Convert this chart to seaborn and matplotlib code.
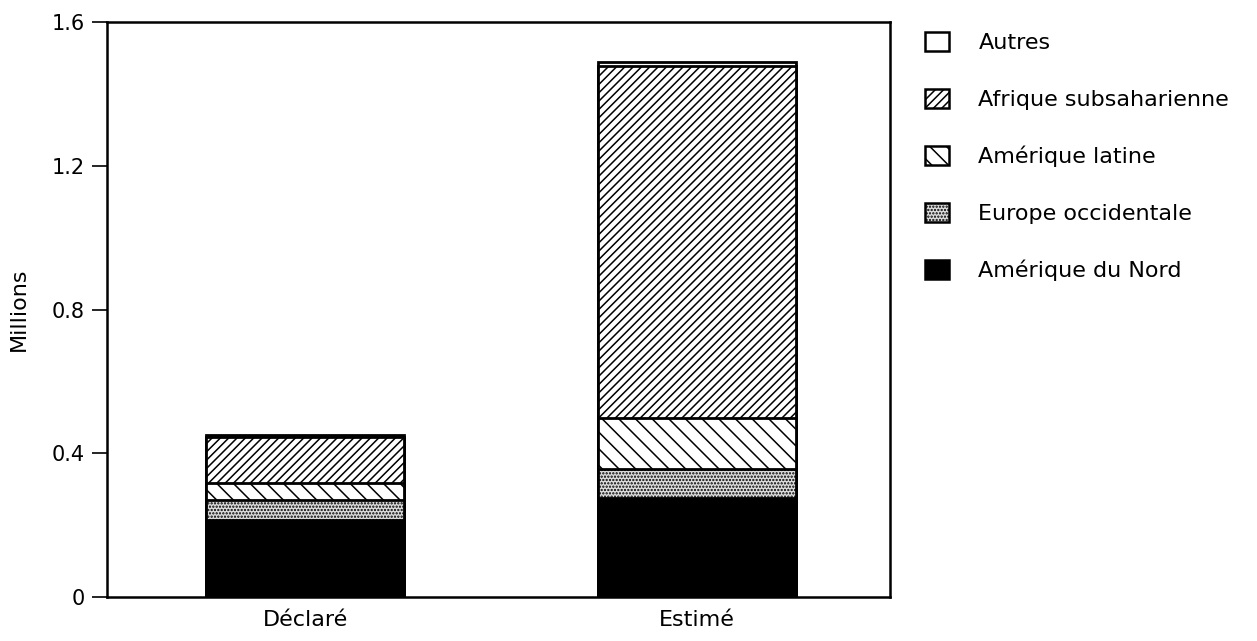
import matplotlib
matplotlib.use("Agg")
import matplotlib.pyplot as plt
import matplotlib.patches as mpatches
import seaborn as sns
import pandas as pd
import numpy as np

categories = ["Déclaré", "Estimé"]
amerique_nord = [0.214, 0.276]
europe_occ = [0.056, 0.081]
amerique_lat = [0.047, 0.142]
afrique_ss = [0.128, 0.978]
autres = [0.005, 0.011]

series_names = ["Amérique du Nord", "Europe occidentale", "Amérique latine",
                "Afrique subsaharienne", "Autres"]
series_vals = [amerique_nord, europe_occ, amerique_lat, afrique_ss, autres]
y_ticks = [0, 0.4, 0.8, 1.2, 1.6]
y_tick_labels = ["0", "0.4", "0.8", "1.2", "1.6"]

styles = {
    "Amérique du Nord": dict(facecolor="black", hatch=None),
    "Europe occidentale": dict(facecolor="#dddddd", hatch="....."),
    "Amérique latine": dict(facecolor="white", hatch="\\\\"),
    "Afrique subsaharienne": dict(facecolor="white", hatch="////"),
    "Autres": dict(facecolor="white", hatch=None),
}

sns.set_theme(style="white")
plt.rcParams["font.family"] = ["DejaVu Sans"]
plt.rcParams["hatch.linewidth"] = 1.1
plt.rcParams["hatch.color"] = "black"

fig = plt.figure(figsize=(12.57, 6.41), dpi=100)
# axes: x 107..890 px, y 22..597 px
ax = fig.add_axes([107 / 1257, 44 / 641, 783 / 1257, 575 / 641])

cum = np.cumsum(np.array(series_vals), axis=0)
# draw from top layer down so lower segments cover upper ones
for i in range(len(series_names) - 1, -1, -1):
    name = series_names[i]
    df = pd.DataFrame({"cat": categories, "val": cum[i]})
    st = styles[name]
    sns.barplot(data=df, x="cat", y="val", ax=ax, color=st["facecolor"],
                width=0.503, edgecolor="black", linewidth=2, saturation=1,
                hatch=st["hatch"])

ax.set_xlim(-0.505, 1.492)
ax.set_ylim(0, 1.6)
ax.set_yticks(y_ticks)
ax.set_yticklabels(y_tick_labels, fontsize=15)
ax.tick_params(axis="y", direction="out", length=11, width=1.2, left=True,
               pad=5, colors="black")
ax.tick_params(axis="x", length=0, pad=9, labelsize=16)
for lab in ax.get_xticklabels():
    lab.set_color("black")
ax.set_xlabel("")
ax.set_ylabel("Millions", fontsize=16, labelpad=16, color="black")
for sp in ax.spines.values():
    sp.set_visible(True)
    sp.set_color("black")
    sp.set_linewidth(1.8)

handles = []
for name in reversed(series_names):
    st = styles[name]
    handles.append(mpatches.Patch(facecolor=st["facecolor"], hatch=st["hatch"],
                                  edgecolor="black", linewidth=1.8, label=name))
leg = fig.legend(handles=handles, loc="upper left",
                 bbox_to_anchor=(925 / 1257, 1 - 32 / 641),
                 frameon=False, fontsize=16, handlelength=1.1, handleheight=0.95,
                 labelspacing=1.6, handletextpad=1.3, borderpad=0,
                 borderaxespad=0)
for t in leg.get_texts():
    t.set_color("black")

fig.savefig("out.png", dpi=100, facecolor="white")
